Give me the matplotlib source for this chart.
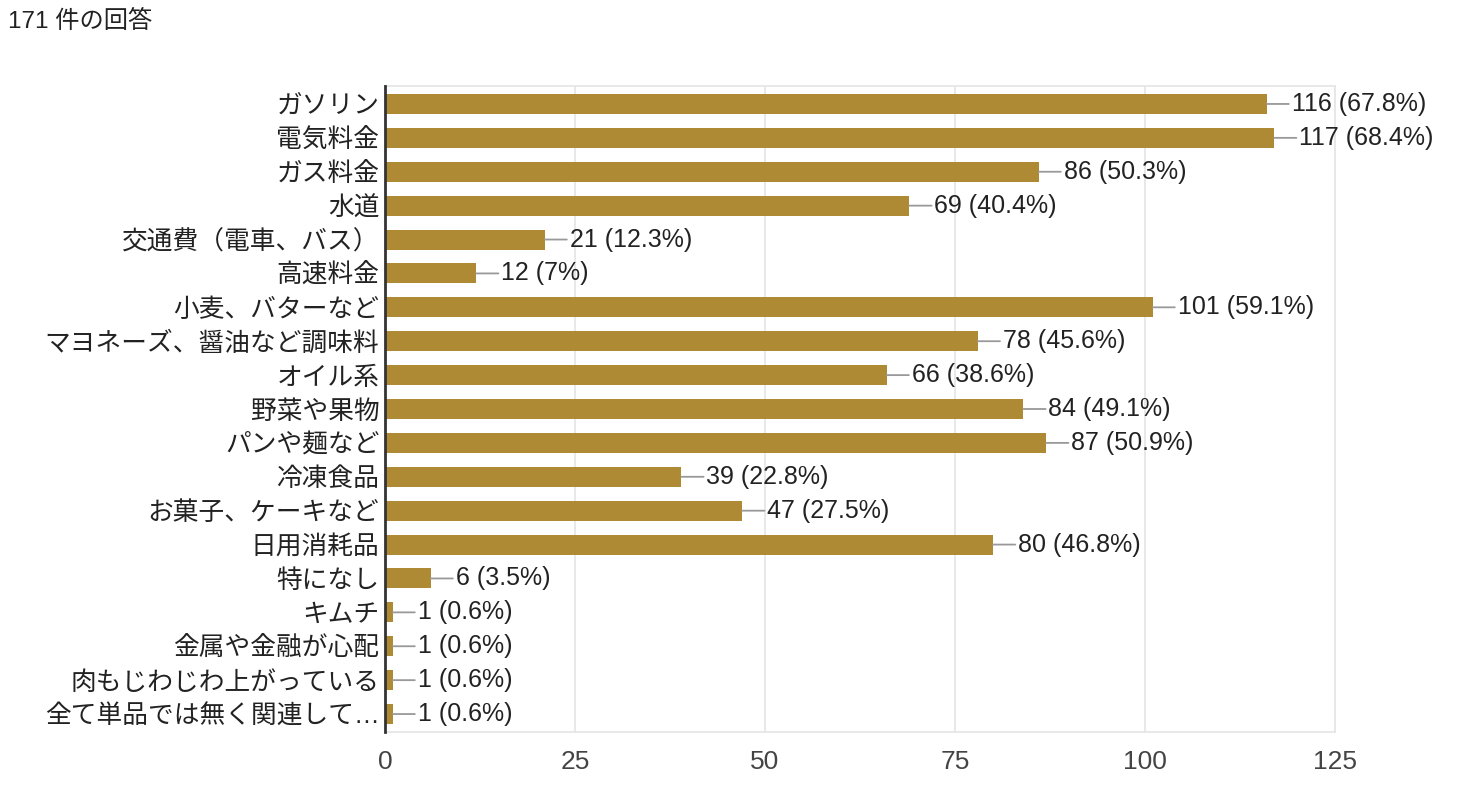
import matplotlib

matplotlib.use("Agg")
import matplotlib.pyplot as plt

plt.rcParams["font.family"] = ["Liberation Sans", "Noto Sans CJK JP", "DejaVu Sans"]

BAR_COLOR = "#af8a35"
GRID_COLOR = "#e6e6e6"
TEXT_COLOR = "#222222"

categories = [
    "ガソリン", "電気料金", "ガス料金", "水道", "交通費（電車、バス）", "高速料金",
    "小麦、バターなど", "マヨネーズ、醤油など調味料", "オイル系", "野菜や果物",
    "パンや麺など", "冷凍食品", "お菓子、ケーキなど", "日用消耗品", "特になし",
    "キムチ", "金属や金融が心配", "肉もじわじわ上がっている", "全て単品では無く関連して…",
]
counts = [116, 117, 86, 69, 21, 12, 101, 78, 66, 84, 87, 39, 47, 80, 6, 1, 1, 1, 1]
percents = ["67.8%", "68.4%", "50.3%", "40.4%", "12.3%", "7%", "59.1%", "45.6%",
            "38.6%", "49.1%", "50.9%", "22.8%", "27.5%", "46.8%", "3.5%",
            "0.6%", "0.6%", "0.6%", "0.6%"]
x_ticks = [0, 25, 50, 75, 100, 125]
title = "171 件の回答"

fig = plt.figure(figsize=(14.72, 7.96), dpi=100)
ax = fig.add_axes([385 / 1472, 1 - 732 / 796, 950 / 1472, 646 / 796])

ypos = list(range(len(categories)))
ax.barh(ypos, counts, height=0.59, color=BAR_COLOR, zorder=3)

for y, c, p in zip(ypos, counts, percents):
    ax.annotate(f"{c} ({p})", xy=(c, y), xytext=(18, 0), textcoords="offset points",
                ha="left", va="center", fontsize=18, color=TEXT_COLOR,
                arrowprops=dict(arrowstyle="-", color="#999999", lw=1.3,
                                shrinkA=0, shrinkB=0),
                annotation_clip=False, zorder=4)

ax.set_xlim(0, 125)
ax.set_ylim(len(categories) - 0.47, -0.53)
ax.set_xticks(x_ticks)
ax.set_yticks(ypos)
ax.set_yticklabels(categories, fontsize=18.5, color=TEXT_COLOR)
ax.tick_params(axis="y", length=0, pad=4)
ax.tick_params(axis="x", length=0, pad=13, labelsize=19, labelcolor="#444444")
ax.grid(axis="x", color=GRID_COLOR, lw=1.3, zorder=0)

for name in ("top", "right", "bottom"):
    ax.spines[name].set_color(GRID_COLOR)
    ax.spines[name].set_linewidth(1.3)
ax.spines["left"].set_color("#333333")
ax.spines["left"].set_linewidth(2)
ax.spines["left"].set_zorder(5)

fig.text(8 / 1472, 1 - 22 / 796, title, ha="left", va="center", fontsize=17.5,
         color=TEXT_COLOR)

fig.savefig("out.png", dpi=100)
plt.close(fig)
